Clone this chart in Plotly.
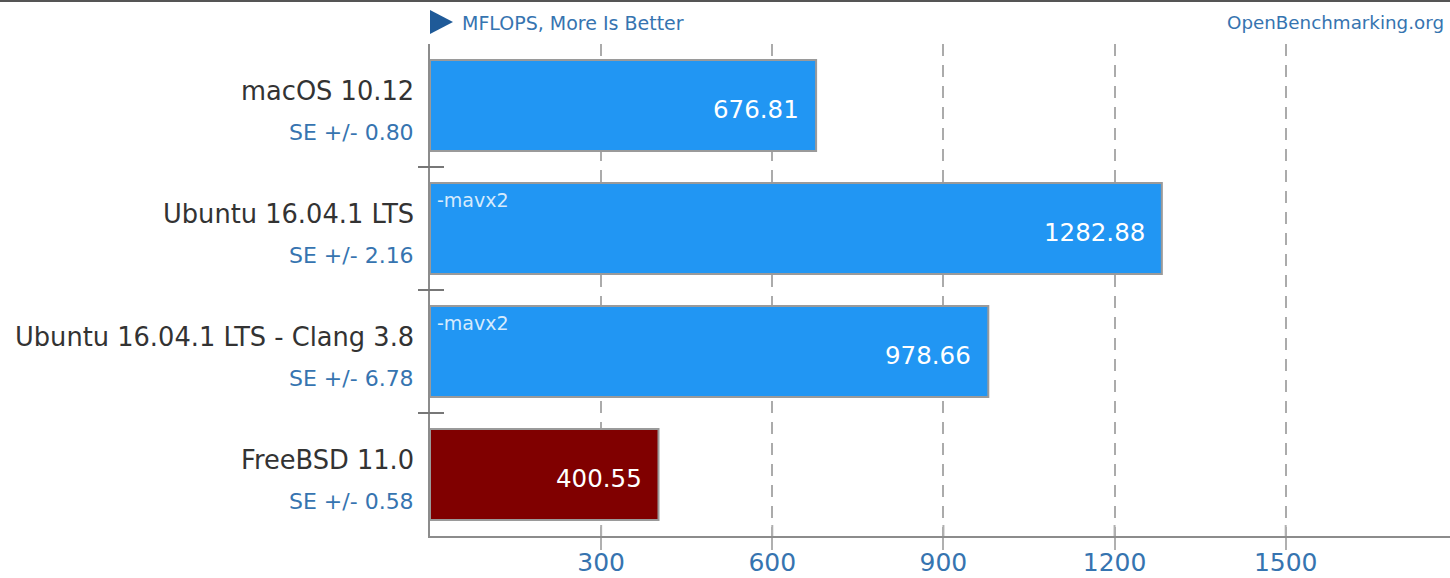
import plotly.graph_objects as go

categories = ["macOS 10.12", "Ubuntu 16.04.1 LTS", "Ubuntu 16.04.1 LTS - Clang 3.8", "FreeBSD 11.0"]
values = [676.81, 1282.88, 978.66, 400.55]
se_values = ["0.80", "2.16", "6.78", "0.58"]
notes = ["", "-mavx2", "-mavx2", ""]
bar_colors = ["#2196f3", "#2196f3", "#2196f3", "#800000"]
tick_values = [300, 600, 900, 1200, 1500]
tick_labels = ["300", "600", "900", "1200", "1500"]
unit_label = "MFLOPS, More Is Better"
source_label = "OpenBenchmarking.org"

W, H = 1450, 578
ML, MR, MT, MB = 430, 0, 44, 42
PW, PH = W - ML - MR, H - MT - MB
FONT = "DejaVu Sans"
BLUE_TXT = "#3674b0"

fig = go.Figure()
fig.add_trace(go.Bar(
    x=values, y=categories, orientation="h",
    marker=dict(color=bar_colors, line=dict(color="#9a9a9a", width=2)),
    width=0.74, hoverinfo="skip",
))

annotations = []
for cat, v, se, note in zip(categories, values, se_values, notes):
    annotations.append(dict(x=0, xref="paper", y=cat, yref="y", text=cat,
                            xanchor="right", yanchor="middle", xshift=-14, yshift=15,
                            showarrow=False, font=dict(family=FONT, size=25.7, color="#333333")))
    annotations.append(dict(x=0, xref="paper", y=cat, yref="y", text="SE +/- " + se,
                            xanchor="right", yanchor="middle", xshift=-14, yshift=-27,
                            showarrow=False, font=dict(family=FONT, size=22, color=BLUE_TXT)))
    annotations.append(dict(x=v, xref="x", y=cat, yref="y", text=f"{v:.2f}",
                            xanchor="right", yanchor="middle", xshift=-15, yshift=-4,
                            showarrow=False, font=dict(family=FONT, size=24.5, color="#ffffff")))
    if note:
        annotations.append(dict(x=0, xref="x", y=cat, yref="y", text=note,
                                xanchor="left", yanchor="middle", xshift=5, yshift=29,
                                showarrow=False, font=dict(family=FONT, size=19, color="#d6ebfd")))


def py(pix):
    return (PH - (pix - MT)) / PH


annotations.append(dict(x=30 / PW, xref="paper", y=py(23), yref="paper",
                        text=unit_label, xanchor="left", yanchor="middle", showarrow=False,
                        font=dict(family=FONT, size=19, color=BLUE_TXT)))
annotations.append(dict(x=(PW - 4) / PW, xref="paper", y=py(23), yref="paper",
                        text=source_label, xanchor="right", yanchor="middle", showarrow=False,
                        font=dict(family=FONT, size=18.3, color=BLUE_TXT)))

shapes = [
    dict(type="path", xref="paper", yref="paper",
         path=f"M 0,{py(10)} L {23 / PW},{py(22)} L 0,{py(34)} Z",
         fillcolor="#1f5a98", line=dict(width=0)),
    dict(type="line", xref="paper", yref="paper", x0=-ML / PW, x1=1.0, y0=py(1), y1=py(1),
         line=dict(color="#555555", width=2)),
]
for i in range(len(categories) - 1):
    shapes.append(dict(type="line", xref="x domain", yref="y", x0=-12 / PW, x1=14 / PW,
                       y0=i + 0.5, y1=i + 0.5, line=dict(color="#777777", width=2)))
for tv in tick_values:
    shapes.append(dict(type="line", xref="x", yref="y domain", x0=tv, x1=tv,
                       y0=0, y1=11 / PH, line=dict(color="#b0b0b0", width=2)))

fig.update_layout(
    width=W, height=H,
    margin=dict(l=ML, r=MR, t=MT, b=MB, pad=0, autoexpand=False),
    paper_bgcolor="#ffffff", plot_bgcolor="#ffffff",
    showlegend=False,
    annotations=annotations,
    shapes=shapes,
    xaxis=dict(range=[0, 1788], tickvals=tick_values, ticktext=tick_labels,
               showgrid=True, gridcolor="#ababab", gridwidth=1.5, griddash="12px,9px",
               showline=True, linecolor="#8c8c8c", linewidth=2,
               ticks="outside", ticklen=12, tickwidth=2, tickcolor="#b0b0b0",
               ticklabelstandoff=-9,
               tickfont=dict(family=FONT, size=25, color=BLUE_TXT),
               zeroline=False, fixedrange=True, automargin=False),
    yaxis=dict(categoryorder="array", categoryarray=categories, autorange="reversed",
               showticklabels=False, showgrid=False, zeroline=False,
               showline=True, linecolor="#8c8c8c", linewidth=2, ticks="", fixedrange=True,
               automargin=False),
)

fig.write_html("out.html")
